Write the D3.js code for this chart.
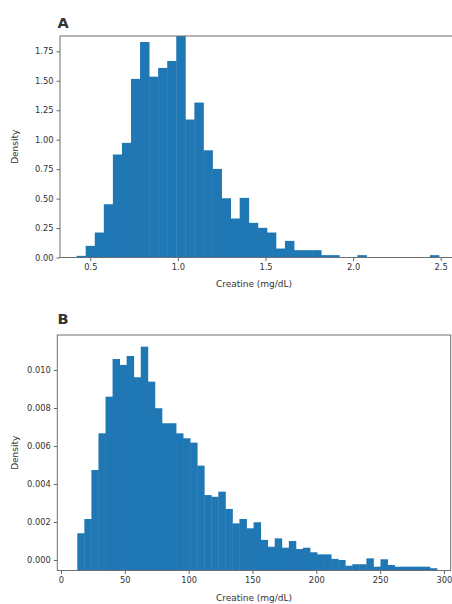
<!DOCTYPE html>
<html>
<head>
<meta charset="utf-8">
<script src="https://cdn.jsdelivr.net/npm/d3@7"></script>
<style>
  html, body { margin: 0; padding: 0; background: #ffffff; }
  svg { display: block; }
  text { font-family: "DejaVu Sans", sans-serif; fill: #333; }
</style>
</head>
<body>
<svg id="chart" width="452" height="604"></svg>
<script>
// ---------- Panel A data: 40 bins of creatine (mg/dL), density ----------
const aBinStart = 0.422;
const aBinWidth = 0.0517;
const aDensity = [
  0.014, 0.099, 0.212, 0.452, 0.874, 0.973, 1.516, 1.829, 1.535, 1.609,
  1.668, 1.880, 1.171, 1.315, 0.910, 0.752, 0.503, 0.331, 0.506, 0.294,
  0.252, 0.212, 0.076, 0.141, 0.062, 0.062, 0.062, 0.020, 0.020, 0.000,
  0.000, 0.020, 0.000, 0.000, 0.000, 0.000, 0.000, 0.000, 0.000, 0.020
];
const aXTicks = [0.5, 1.0, 1.5, 2.0, 2.5];
const aYTicks = [0.00, 0.25, 0.50, 0.75, 1.00, 1.25, 1.50, 1.75];

// ---------- Panel B data: 51 bins, density (bar height above the frame floor) ----------
const bBinStart = 12.77;
const bBinWidth = 5.524;
const bDensity = [
  0.00196, 0.00271, 0.00529, 0.00722, 0.00915, 0.01113, 0.01082, 0.01129, 0.01017, 0.01178,
  0.00994, 0.00854, 0.00775, 0.00775, 0.00722, 0.00696, 0.00673, 0.00552, 0.00397, 0.00388,
  0.00415, 0.00324, 0.00248, 0.00271, 0.00222, 0.00254, 0.00161, 0.00125, 0.00169, 0.00120,
  0.00155, 0.00113, 0.00120, 0.00096, 0.00085, 0.00085, 0.00061, 0.00055, 0.00025, 0.00033,
  0.00033, 0.00064, 0.00020, 0.00059, 0.00029, 0.00020, 0.00020, 0.00020, 0.00020, 0.00020,
  0.00012
];
const bXTicks = [0, 50, 100, 150, 200, 250, 300];
const bYTicks = [0.000, 0.002, 0.004, 0.006, 0.008, 0.010];

const xLabel = "Creatine (mg/dL)";
const yLabel = "Density";
const barColor = "#1f77b4";

const svg = d3.select("#chart");

function drawPanel(cfg) {
  const g = svg.append("g");
  const x = d3.scaleLinear().domain(cfg.xDomain).range([cfg.left, cfg.right]);
  const y = d3.scaleLinear().domain(cfg.yDomain).range([cfg.bottom, cfg.top]);
  const floor = cfg.yDomain[0];
  const base = cfg.baseFromFloor ? floor : 0;

  const bins = cfg.values.map((v, i) => ({
    x0: cfg.binStart + i * cfg.binWidth,
    x1: cfg.binStart + (i + 1) * cfg.binWidth,
    v: v
  }));

  // bars
  g.append("g")
    .selectAll("rect")
    .data(bins.filter(d => d.v > 0))
    .join("rect")
    .attr("x", d => x(d.x0))
    .attr("width", d => x(d.x1) - x(d.x0) + 0.4)
    .attr("y", d => y(base + d.v))
    .attr("height", d => y(base) - y(base + d.v))
    .attr("fill", barColor);

  // axes
  const xAxis = d3.axisBottom(x).tickValues(cfg.xTicks).tickFormat(d3.format(cfg.xFmt))
    .tickSize(3.5).tickPadding(3);
  const yAxis = d3.axisLeft(y).tickValues(cfg.yTicks).tickFormat(d3.format(cfg.yFmt))
    .tickSize(3.5).tickPadding(3);

  const gx = g.append("g").attr("transform", `translate(0,${cfg.bottom})`).call(xAxis);
  const gy = g.append("g").attr("transform", `translate(${cfg.left},0)`).call(yAxis);
  [gx, gy].forEach(ax => {
    ax.select(".domain").remove();
    ax.selectAll(".tick line").attr("stroke", "#555").attr("stroke-width", 0.9);
    ax.selectAll(".tick text")
      .attr("font-family", "DejaVu Sans, sans-serif")
      .attr("font-size", cfg.tickSize)
      .attr("fill", "#333");
  });

  // frame (spines)
  g.append("rect")
    .attr("x", cfg.left).attr("y", cfg.top)
    .attr("width", cfg.right - cfg.left).attr("height", cfg.bottom - cfg.top)
    .attr("fill", "none").attr("stroke", "#6e6e6e").attr("stroke-width", 1);

  // axis labels
  g.append("text")
    .attr("x", (cfg.left + Math.min(cfg.right, 452)) / 2 + cfg.xLabelShift)
    .attr("y", cfg.xLabelY)
    .attr("text-anchor", "middle")
    .attr("font-size", cfg.labelSize)
    .text(xLabel);

  g.append("text")
    .attr("transform", `translate(${cfg.yLabelX},${(cfg.top + cfg.bottom) / 2}) rotate(-90)`)
    .attr("text-anchor", "middle")
    .attr("font-size", cfg.labelSize)
    .text(yLabel);

  // panel letter
  g.append("text")
    .attr("x", cfg.letterX).attr("y", cfg.letterY)
    .attr("font-family", "Liberation Sans, Arial, sans-serif")
    .attr("font-weight", "bold")
    .attr("font-size", 14.5)
    .attr("fill", "#111")
    .text(cfg.letter);
}

drawPanel({
  letter: "A", letterX: 57.5, letterY: 28,
  left: 60, right: 454, top: 36, bottom: 257.5,
  xDomain: [0.327, 2.576], yDomain: [0, 1.88],
  values: aDensity, binStart: aBinStart, binWidth: aBinWidth,
  baseFromFloor: false,
  xTicks: aXTicks, yTicks: aYTicks, xFmt: ".1f", yFmt: ".2f",
  tickSize: 8.3, labelSize: 9, xLabelY: 287, xLabelShift: -2, yLabelX: 18
});

drawPanel({
  letter: "B", letterX: 57.5, letterY: 324,
  left: 57.3, right: 450.7, top: 335, bottom: 570.5,
  xDomain: [-2.9, 305.3], yDomain: [-0.000553, 0.011842],
  values: bDensity, binStart: bBinStart, binWidth: bBinWidth,
  baseFromFloor: true,
  xTicks: bXTicks, yTicks: bYTicks, xFmt: "d", yFmt: ".3f",
  tickSize: 8.3, labelSize: 9, xLabelY: 601, xLabelShift: 0, yLabelX: 18
});
</script>
</body>
</html>
